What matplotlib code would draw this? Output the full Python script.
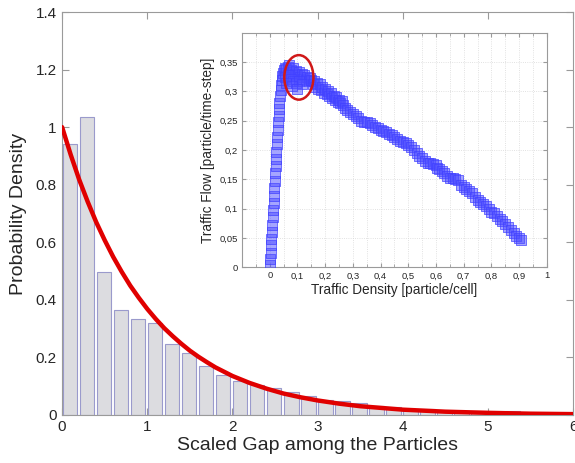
import numpy as np
import matplotlib
matplotlib.use("Agg")
import matplotlib.pyplot as plt
from matplotlib.patches import Ellipse
from matplotlib.ticker import MultipleLocator

plt.rcParams["font.family"] = ["Liberation Sans", "DejaVu Sans"]

# histogram of scaled gaps
bin_centers = [0.09, 0.29, 0.49, 0.69, 0.89, 1.09, 1.29, 1.49, 1.69, 1.89,
               2.09, 2.29, 2.49, 2.69, 2.89, 3.09, 3.29, 3.49, 3.69, 3.89,
               4.09, 4.29, 4.49, 4.69, 4.89, 5.09, 5.29, 5.49, 5.69, 5.89]
density = [0.94, 1.035, 0.497, 0.363, 0.332, 0.318, 0.245, 0.214, 0.170, 0.139,
           0.118, 0.104, 0.094, 0.078, 0.066, 0.052, 0.049, 0.040, 0.032, 0.026,
           0.021, 0.020, 0.015, 0.012, 0.010, 0.008, 0.014, 0.005, 0.003, 0.002]

# fitted curve
fit_x = [0, 0.1, 0.2, 0.3, 0.4, 0.5, 0.6, 0.7, 0.8, 0.9, 1.0, 1.1, 1.2, 1.3,
         1.4, 1.5, 1.6, 1.7, 1.8, 1.9, 2.0, 2.2, 2.4, 2.6, 2.8, 3.0, 3.25,
         3.5, 3.75, 4.0, 4.5, 5.0, 5.5, 6.0]
fit_y = [1.0, 0.905, 0.818, 0.741, 0.670, 0.607, 0.549, 0.497, 0.449, 0.407,
         0.368, 0.333, 0.301, 0.273, 0.247, 0.223, 0.202, 0.183, 0.165, 0.150,
         0.135, 0.111, 0.091, 0.074, 0.061, 0.050, 0.039, 0.030, 0.024, 0.018,
         0.011, 0.007, 0.004, 0.0025]

# inset: fundamental diagram
traffic_density = [
    0.000, 0.002, 0.003, 0.005, 0.006, 0.008, 0.009, 0.011, 0.012, 0.014,
    0.015, 0.017, 0.018, 0.020, 0.021, 0.023, 0.024, 0.026, 0.027, 0.029,
    0.030, 0.032, 0.034, 0.035, 0.037, 0.039, 0.041, 0.043, 0.045, 0.047,
    0.050, 0.055, 0.060, 0.065, 0.070, 0.075, 0.080, 0.085, 0.090, 0.095,
    0.100, 0.105, 0.110, 0.115, 0.120, 0.125, 0.130, 0.135, 0.140, 0.145,
    0.055, 0.065, 0.075, 0.085, 0.095, 0.105, 0.115, 0.060, 0.080, 0.100,
    0.150, 0.155, 0.160, 0.165, 0.170, 0.175, 0.180, 0.185, 0.190, 0.195,
    0.200, 0.205, 0.210, 0.215, 0.220, 0.225, 0.230, 0.235, 0.240, 0.245,
    0.250, 0.255, 0.260, 0.265,
    0.270, 0.280, 0.290, 0.300, 0.310, 0.320, 0.330, 0.340, 0.350, 0.360,
    0.370, 0.380, 0.390, 0.400, 0.410, 0.420, 0.430, 0.440, 0.450, 0.460,
    0.470, 0.480, 0.490, 0.500, 0.510, 0.520, 0.530, 0.540, 0.550, 0.560,
    0.570, 0.580, 0.590, 0.600, 0.605, 0.610, 0.620, 0.630, 0.640, 0.650,
    0.660, 0.670, 0.680, 0.690, 0.700, 0.710, 0.720, 0.730, 0.740, 0.750,
    0.760, 0.770, 0.780, 0.790, 0.800, 0.810, 0.820, 0.830, 0.840, 0.850,
    0.860, 0.870, 0.880, 0.890, 0.900, 0.905]
traffic_flow = [
    0.004, 0.014, 0.025, 0.037, 0.048, 0.060, 0.072, 0.085, 0.097, 0.110,
    0.122, 0.135, 0.147, 0.160, 0.172, 0.185, 0.197, 0.210, 0.222, 0.235,
    0.247, 0.258, 0.270, 0.281, 0.292, 0.302, 0.311, 0.319, 0.326, 0.332,
    0.336, 0.340, 0.338, 0.342, 0.345, 0.337, 0.333, 0.340, 0.330, 0.335,
    0.328, 0.333, 0.325, 0.330, 0.322, 0.328, 0.320, 0.325, 0.318, 0.323,
    0.325, 0.328, 0.322, 0.318, 0.315, 0.318, 0.312, 0.315, 0.310, 0.305,
    0.320, 0.312, 0.318, 0.308, 0.315, 0.305, 0.312, 0.302, 0.308, 0.298,
    0.305, 0.296, 0.300, 0.292, 0.298, 0.288, 0.293, 0.285, 0.290, 0.282,
    0.286, 0.280, 0.283, 0.277,
    0.272, 0.268, 0.265, 0.262, 0.258, 0.254, 0.250, 0.248, 0.247, 0.246,
    0.243, 0.240, 0.237, 0.234, 0.232, 0.230, 0.228, 0.225, 0.222, 0.219,
    0.216, 0.214, 0.212, 0.208, 0.205, 0.200, 0.195, 0.190, 0.186, 0.182,
    0.178, 0.177, 0.176, 0.175, 0.170, 0.167, 0.164, 0.160, 0.156, 0.153,
    0.152, 0.151, 0.148, 0.140, 0.136, 0.133, 0.130, 0.127, 0.120, 0.115,
    0.111, 0.108, 0.104, 0.100, 0.095, 0.092, 0.087, 0.082, 0.078, 0.074,
    0.069, 0.064, 0.059, 0.054, 0.049, 0.046]

frame_col = "#9a9a9a"
text_col = "#262626"

fig = plt.figure(figsize=(5.75, 4.63), dpi=100)
ax = fig.add_axes([0.108, 0.104, 0.889, 0.870])

ax.bar(bin_centers, density, width=0.17, color="#dcdce0",
       edgecolor="#9a9acc", linewidth=0.8, zorder=2)
ax.plot(fit_x, fit_y, color="#e00000", lw=3.2, zorder=3,
        solid_capstyle="round", solid_joinstyle="round")

ax.set_xlim(0, 6)
ax.set_ylim(0, 1.4)
ax.set_xticks(range(7))
ax.set_yticks([0, 0.2, 0.4, 0.6, 0.8, 1.0, 1.2, 1.4])
ax.set_yticklabels(["0", "0.2", "0.4", "0.6", "0.8", "1", "1.2", "1.4"])
ax.tick_params(direction="in", top=True, right=True, length=5,
               color=frame_col, labelsize=11, labelcolor=text_col, pad=4)
for s in ax.spines.values():
    s.set_color(frame_col)
ax.set_xlabel("Scaled Gap among the Particles", fontsize=14, color=text_col,
              labelpad=2)
ax.set_ylabel("Probability Density", fontsize=14, color=text_col, labelpad=6)

# inset
ins = fig.add_axes([0.421, 0.423, 0.530, 0.506])
ins.scatter(traffic_density, traffic_flow, marker="s", s=50,
            facecolor=(0.3, 0.3, 1.0, 0.5), edgecolor=(0.25, 0.25, 1.0, 0.7),
            linewidth=0.7, zorder=3)
ins.add_patch(Ellipse((0.105, 0.324), 0.105, 0.076, fill=False,
                      edgecolor="#d01818", lw=1.8, zorder=4))
ins.set_xlim(-0.1, 1)
ins.set_ylim(0, 0.4)
xt = [0, 0.1, 0.2, 0.3, 0.4, 0.5, 0.6, 0.7, 0.8, 0.9, 1.0]
ins.set_xticks(xt)
ins.set_xticklabels(["0", "0,1", "0,2", "0,3", "0,4", "0,5", "0,6", "0,7",
                     "0,8", "0,9", "1"])
yt = [0, 0.05, 0.1, 0.15, 0.2, 0.25, 0.3, 0.35]
ins.set_yticks(yt)
ins.set_yticklabels(["0", "0,05", "0,1", "0,15", "0,2", "0,25", "0,3", "0,35"])
ins.xaxis.set_minor_locator(MultipleLocator(0.05))
ins.grid(True, which="both", color="#d8d8d8", lw=0.6, ls=":")
ins.tick_params(which="both", direction="in", top=True, right=True,
                color=frame_col, labelsize=6.8, labelcolor=text_col, pad=3)
ins.tick_params(which="major", length=3)
ins.tick_params(which="minor", length=2)
for s in ins.spines.values():
    s.set_color(frame_col)
ins.set_xlabel("Traffic Density [particle/cell]", fontsize=9.8, color=text_col,
               labelpad=2)
ins.set_ylabel("Traffic Flow [particle/time-step]", fontsize=9.8,
               color=text_col, labelpad=3)

fig.savefig("out.png", dpi=100)
